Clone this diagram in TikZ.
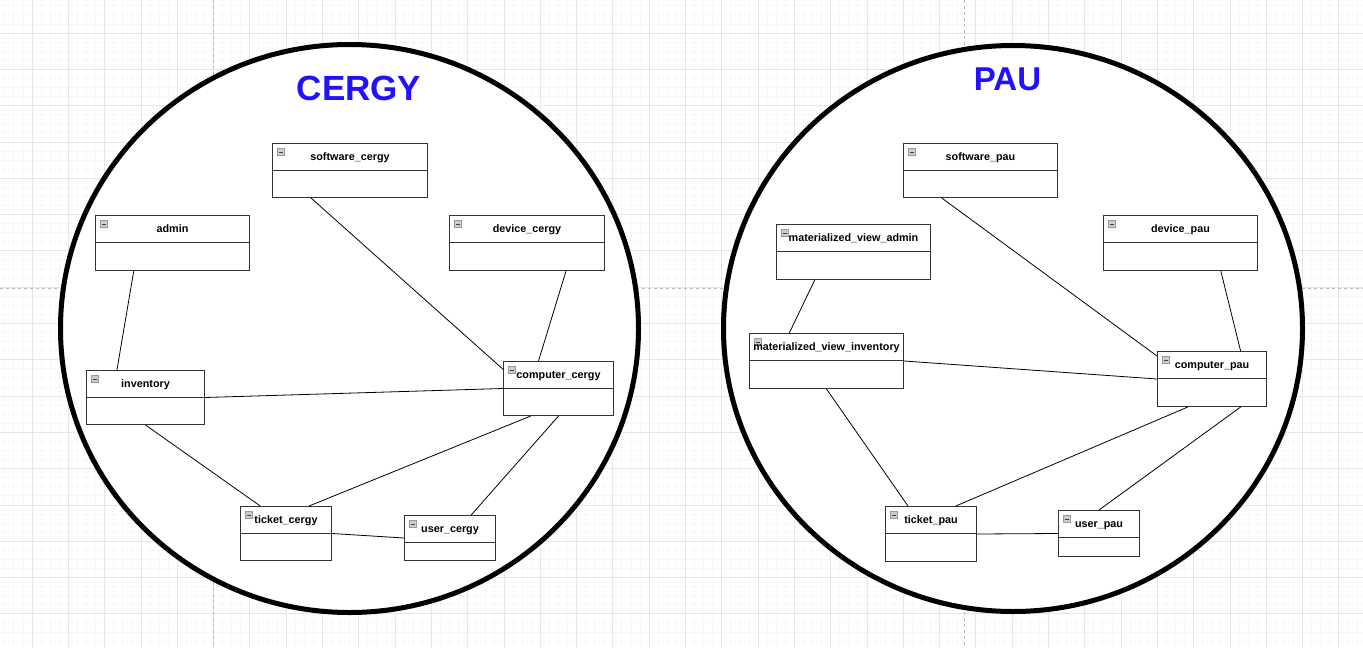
\documentclass[tikz,border=0pt]{standalone}
\usepackage{fontspec}
\setmainfont{Liberation Sans}
\usetikzlibrary{calc}

\definecolor{siteblue}{RGB}{34,17,255}
\definecolor{gridminor}{RGB}{247,247,247}
\definecolor{gridmajor}{RGB}{230,230,230}

\begin{document}
\begin{tikzpicture}[
    x=1pt, y=-1pt,
    font=\bfseries\fontsize{10.8}{13}\selectfont,
    site/.style={draw=black, line width=5pt, fill=white},
    sitename/.style={text=siteblue, inner sep=0pt, font=\bfseries\fontsize{35}{40}\selectfont},
    cls/.style={draw=black!80, line width=1pt, fill=white, anchor=north west, inner sep=0pt,
        path picture={
            \draw[black!80, line width=1pt] ([yshift=-27pt]path picture bounding box.north west) -- ([yshift=-27pt]path picture bounding box.north east);
            \draw[gray!80, fill=gray!40, line width=0.6pt] ([shift={(5pt,-5pt)}]path picture bounding box.north west) rectangle ++(7pt,-7pt);
            \draw[black!75, line width=1pt] ([shift={(6.3pt,-8.5pt)}]path picture bounding box.north west) -- ++(4.4pt,0pt);
        }},
    title/.style={anchor=center, yshift=-15pt, text height=8pt, text depth=2.5pt, inner sep=0pt},
    link/.style={black, line width=0.8pt}
]
\useasboundingbox (0,0) rectangle (1363,648);

% Page grid
\begin{scope}
    \clip (0,0) rectangle (1363,648);
    \fill[white] (0,0) rectangle (1363,648);
    \foreach \i in {0,...,151} \draw[gridminor, line width=0.8pt] ({\i*9.075-4.3},0) -- ++(0,648);
    \foreach \i in {0,...,72} \draw[gridminor, line width=0.8pt] (0,{\i*9.075-3.3}) -- ++(1363,0);
    \foreach \i in {0,...,38} \draw[gridmajor, line width=0.8pt] ({\i*36.3-4.3},0) -- ++(0,648);
    \foreach \i in {0,...,18} \draw[gridmajor, line width=0.8pt] (0,{\i*36.3-3.3}) -- ++(1363,0);
    \draw[gray!55, dashed, line width=0.8pt] (213,0) -- (213,648);
    \draw[gray!55, dashed, line width=0.8pt] (964,0) -- (964,648);
    \draw[gray!55, dashed, line width=0.8pt] (0,288) -- (1363,288);
\end{scope}

% Sites
\draw[site] (349.5,328.5) ellipse [x radius=289pt, y radius=284pt];
\draw[site] (1013,328.5) ellipse [x radius=289.5pt, y radius=283pt];
\node[sitename] (cergy) at (359,88) {CERGY};
\node[sitename, font=\bfseries\fontsize{33}{38}\selectfont] (pau) at (1007.5,79) {PAU};

% Cergy tables
\node[cls, minimum width=155, minimum height=54, label={[title]north:software\_cergy}] (softc) at (272,143) {};
\node[cls, minimum width=154, minimum height=55, label={[title]north:admin}] (admin) at (95,215) {};
\node[cls, minimum width=155, minimum height=55, label={[title]north:device\_cergy}] (devc) at (449,215) {};
\node[cls, minimum width=118, minimum height=54, label={[title]north:inventory}] (inv) at (86,370) {};
\node[cls, minimum width=110, minimum height=54, label={[title]north:computer\_cergy}] (compc) at (503,361) {};
\node[cls, minimum width=91, minimum height=54, label={[title]north:ticket\_cergy}] (tickc) at (240,506) {};
\node[cls, minimum width=91, minimum height=45, label={[title]north:user\_cergy}] (userc) at (404,515) {};

% Pau tables
\node[cls, minimum width=154, minimum height=54, label={[title]north:software\_pau}] (softp) at (903,143) {};
\node[cls, minimum width=154, minimum height=55, label={[title]north:materialized\_view\_admin}] (mvadmin) at (776,224) {};
\node[cls, minimum width=154, minimum height=55, label={[title]north:device\_pau}] (devp) at (1103,215) {};
\node[cls, minimum width=154, minimum height=55, label={[title]north:materialized\_view\_inventory}] (mvinv) at (749,333) {};
\node[cls, minimum width=109, minimum height=55, label={[title]north:computer\_pau}] (compp) at (1157,351) {};
\node[cls, minimum width=91, minimum height=55, label={[title]north:ticket\_pau}] (tickp) at (885,506) {};
\node[cls, minimum width=81, minimum height=46, label={[title]north:user\_pau}] (userp) at (1058,510) {};

% Cergy links
\draw[link] ($(admin.south west)!0.25!(admin.south east)$) -- ($(inv.north west)!0.26!(inv.north east)$);
\draw[link] ($(softc.south west)!0.25!(softc.south east)$) -- ($(compc.north west)!0.15!(compc.south west)$);
\draw[link] ($(devc.south west)!0.75!(devc.south east)$) -- ($(compc.north west)!0.32!(compc.north east)$);
\draw[link] (inv.east) -- (compc.west);
\draw[link] (inv.south) -- ($(tickc.north west)!0.22!(tickc.north east)$);
\draw[link] ($(compc.south west)!0.25!(compc.south east)$) -- ($(tickc.north west)!0.75!(tickc.north east)$);
\draw[link] (compc.south) -- ($(userc.north west)!0.73!(userc.north east)$);
\draw[link] (tickc.east) -- (userc.west);

% Pau links
\draw[link] ($(mvadmin.south west)!0.25!(mvadmin.south east)$) -- ($(mvinv.north west)!0.26!(mvinv.north east)$);
\draw[link] ($(softp.south west)!0.25!(softp.south east)$) -- ($(compp.north west)!0.09!(compp.south west)$);
\draw[link] ($(devp.south west)!0.76!(devp.south east)$) -- ($(compp.north west)!0.76!(compp.north east)$);
\draw[link] (mvinv.east) -- (compp.west);
\draw[link] (mvinv.south) -- ($(tickp.north west)!0.25!(tickp.north east)$);
\draw[link] ($(compp.south west)!0.28!(compp.south east)$) -- ($(tickp.north west)!0.77!(tickp.north east)$);
\draw[link] ($(compp.south west)!0.76!(compp.south east)$) -- (userp.north);
\draw[link] (tickp.east) -- (userp.west);

\end{tikzpicture}
\end{document}
